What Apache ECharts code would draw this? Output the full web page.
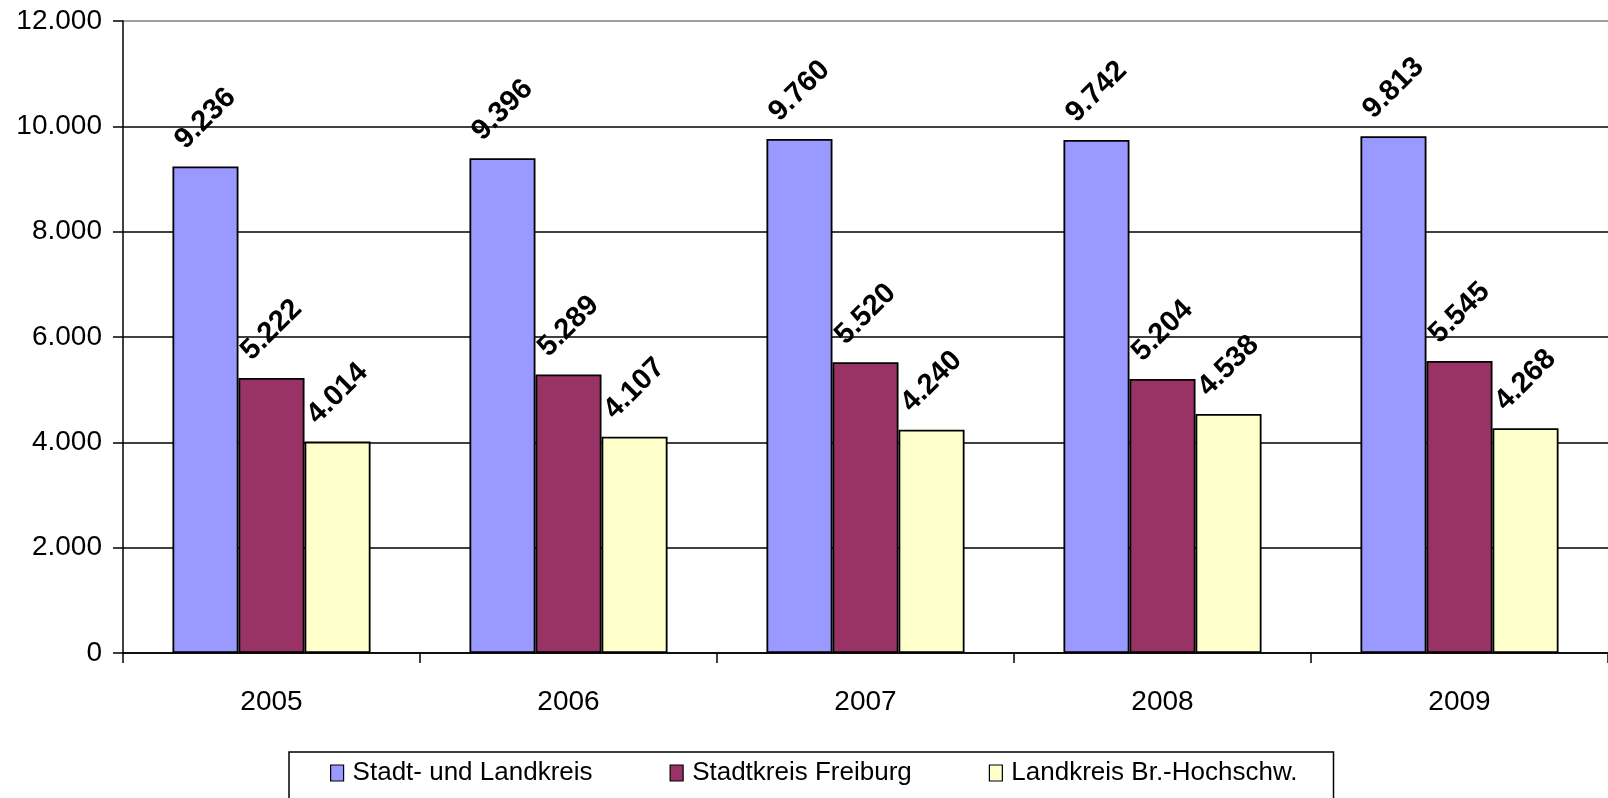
<!DOCTYPE html>
<html>
<head>
<meta charset="utf-8">
<script src="https://cdn.jsdelivr.net/npm/echarts@6/dist/echarts.min.js"></script>
<style>
html,body{margin:0;padding:0;background:#fff;}
#chart{width:1608px;height:798px;}
</style>
</head>
<body>
<div id="chart"></div>
<script>
const categories = ['2005', '2006', '2007', '2008', '2009'];
const seriesNames = ['Stadt- und Landkreis', 'Stadtkreis Freiburg', 'Landkreis Br.-Hochschw.'];
const stadtUndLandkreis = [9236, 9396, 9760, 9742, 9813];
const stadtkreisFreiburg = [5222, 5289, 5520, 5204, 5545];
const landkreisBrHochschw = [4014, 4107, 4240, 4538, 4268];
const yTicks = [0, 2000, 4000, 6000, 8000, 10000, 12000];
const colors = ['#9999FF', '#993366', '#FFFFCC'];

function fmt(v) {
  return String(Math.round(v)).replace(/\B(?=(\d{3})+(?!\d))/g, '.');
}

const font = '"Liberation Sans", Arial, sans-serif';
const chart = echarts.init(document.getElementById('chart'), null, {renderer: 'canvas'});

function mk(name, data, color) {
  return {
    name: name,
    type: 'bar',
    data: data,
    barGap: '0%',
    barCategoryGap: '33.3%',
    itemStyle: {color: color, borderColor: '#000', borderWidth: 1.8},
    label: {
      show: true,
      position: 'top',
      distance: 48,
      rotate: 45,
      align: 'center',
      verticalAlign: 'middle',
      formatter: p => fmt(p.value),
      fontFamily: font,
      fontWeight: 'bold',
      fontSize: 29,
      color: '#000'
    },
    emphasis: {disabled: true},
    animation: false
  };
}

chart.setOption({
  animation: false,
  backgroundColor: '#fff',
  grid: {left: 123, top: 21, bottom: 145, width: 1500, containLabel: false},
  legend: {
    left: 289,
    top: 752,
    data: seriesNames,
    orient: 'horizontal',
    itemWidth: 13,
    itemHeight: 16,
    itemGap: 77,
    borderColor: '#000',
    borderWidth: 1.5,
    padding: [8, 36, 40, 41],
    icon: 'rect',
    itemStyle: {borderColor: '#000', borderWidth: 1.2},
    textStyle: {fontFamily: font, fontSize: 26, color: '#000', padding: [0, 0, 0, 4]}
  },
  xAxis: {
    type: 'category',
    data: categories,
    axisLine: {lineStyle: {color: '#000', width: 1.5}},
    axisTick: {show: true, length: 10, lineStyle: {color: '#000', width: 1.5}},
    axisLabel: {fontFamily: font, fontSize: 28, color: '#000', margin: 35}
  },
  yAxis: {
    type: 'value',
    min: yTicks[0],
    max: yTicks[yTicks.length - 1],
    interval: 2000,
    axisLine: {show: true, lineStyle: {color: '#000', width: 1.5}},
    axisTick: {show: true, length: 10, lineStyle: {color: '#000', width: 1.5}},
    axisLabel: {fontFamily: font, fontSize: 28, color: '#000', margin: 21, formatter: v => fmt(v)},
    splitLine: {show: true, lineStyle: {color: ['#000', '#000', '#000', '#000', '#000', '#000', '#808080'], width: 1.5}}
  },
  series: [
    mk(seriesNames[0], stadtUndLandkreis, colors[0]),
    mk(seriesNames[1], stadtkreisFreiburg, colors[1]),
    mk(seriesNames[2], landkreisBrHochschw, colors[2])
  ]
});
</script>
</body>
</html>
